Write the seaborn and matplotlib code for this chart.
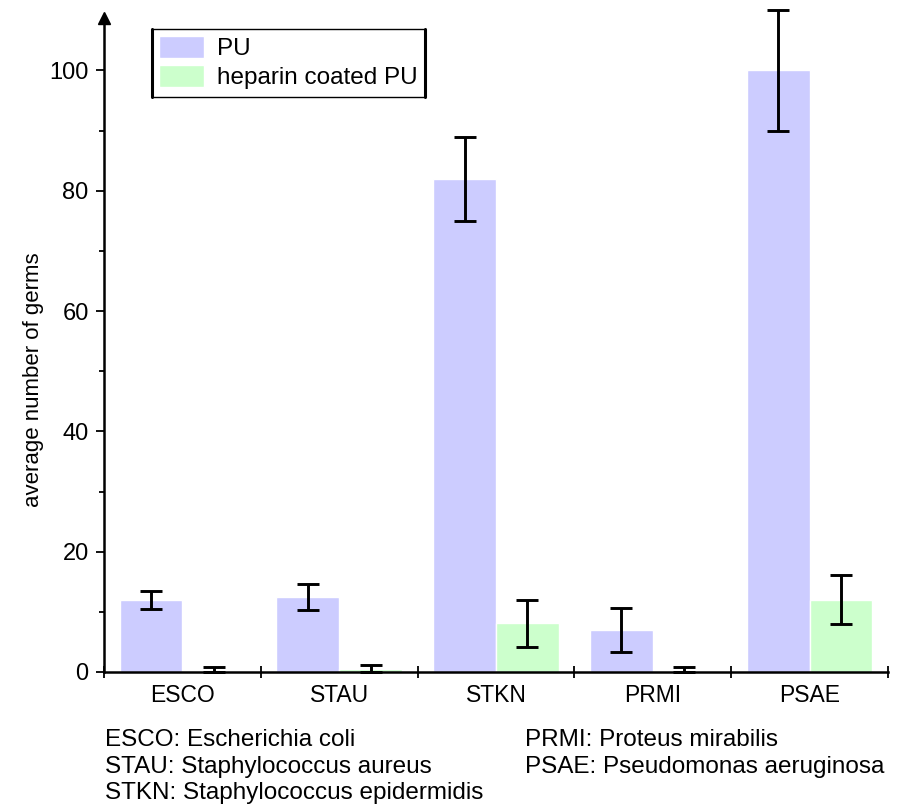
import numpy as np
import pandas as pd
import matplotlib
matplotlib.use('Agg')
import matplotlib.pyplot as plt
from matplotlib.ticker import MultipleLocator, FixedLocator
import seaborn as sns

germs = ['ESCO', 'STAU', 'STKN', 'PRMI', 'PSAE']
pu_mean = [12.0, 12.5, 82.0, 7.0, 100.0]
pu_err = [1.5, 2.2, 7.0, 3.7, 10.0]
hep_mean = [0.2, 0.5, 8.1, 0.2, 12.0]
hep_err = [0.6, 0.6, 3.9, 0.7, 4.1]
series = ['PU', 'heparin coated PU']
colors = ['#ccccff', '#ccffcc']
footnotes_left = ['ESCO: Escherichia coli', 'STAU: Staphylococcus aureus',
                  'STKN: Staphylococcus epidermidis']
footnotes_right = ['PRMI: Proteus mirabilis', 'PSAE: Pseudomonas aeruginosa']

df = pd.DataFrame({
    'germ': germs * 2,
    'value': pu_mean + hep_mean,
    'err': pu_err + hep_err,
    'surface': [series[0]] * len(germs) + [series[1]] * len(germs),
})

sns.set_theme(style='white')
plt.rcParams['font.family'] = ['Liberation Sans', 'DejaVu Sans']
plt.rcParams['text.color'] = 'black'
plt.rcParams['axes.labelcolor'] = 'black'
plt.rcParams['xtick.color'] = 'black'
plt.rcParams['ytick.color'] = 'black'

fig = plt.figure(figsize=(9.06, 8.06), dpi=100)
ax = fig.add_axes([0.1148, 0.1663, 0.8653, 0.806])

sns.barplot(data=df, x='germ', y='value', hue='surface', order=germs,
            hue_order=series, palette=colors, errorbar=None, width=0.8,
            saturation=1, ax=ax)

# error bars on top of each bar (lower end stops at the axis)
for cont, errs in zip(ax.containers, [pu_err, hep_err]):
    for bar, e in zip(cont, errs):
        xc = bar.get_x() + bar.get_width() / 2
        h = bar.get_height()
        eb = ax.errorbar(xc, h, yerr=[[min(e, h)], [e]], fmt='none', ecolor='black',
                         elinewidth=2.1, capsize=8, capthick=2.1, zorder=5)
        for art in eb.lines[1] + eb.lines[2]:
            art.set_clip_on(False)

ax.set_xlim(-0.5, len(germs) - 0.5)
ax.set_ylim(0, 108)
ax.set_xlabel('')
ax.set_ylabel('average number of germs', fontsize=16)
ax.yaxis.set_label_coords(-0.077, 0.45)

for s in ['top', 'right']:
    ax.spines[s].set_visible(False)
for s in ['left', 'bottom']:
    ax.spines[s].set_color('black')
    ax.spines[s].set_linewidth(1.8)

# arrow on y axis
ax.plot(0, 1.006, marker='^', color='black', markersize=9, transform=ax.transAxes,
        clip_on=False, zorder=6)

ax.yaxis.set_major_locator(MultipleLocator(20))
ax.yaxis.set_minor_locator(MultipleLocator(10))
ax.tick_params(axis='y', which='major', direction='out', length=6, width=1.3,
               color='black', labelsize=17, pad=5, left=True)
ax.tick_params(axis='y', which='minor', direction='out', length=3.5, width=1.3,
               color='black', left=True)
ax.xaxis.set_minor_locator(FixedLocator(np.arange(-0.5, len(germs), 1.0)))
ax.tick_params(axis='x', which='major', length=0, labelsize=16.5, pad=9)
ax.tick_params(axis='x', which='minor', direction='inout', length=8, width=1.3,
               color='black', bottom=True)

leg = ax.legend(loc='upper left', bbox_to_anchor=(0.061, 0.99), borderaxespad=0,
                fontsize=17.5, frameon=True, fancybox=False, edgecolor='black',
                handlelength=1.85, handleheight=1.0, handletextpad=0.55,
                labelspacing=0.2, borderpad=0.3, title=None)
leg.get_frame().set_linewidth(1.0)
leg.get_frame().set_alpha(1)

# thick sides of legend box
fig.canvas.draw()
bb = leg.get_window_extent().transformed(fig.transFigure.inverted())
for xs in [bb.x0, bb.x1]:
    fig.add_artist(plt.Line2D([xs, xs], [bb.y0, bb.y1], color='black',
                              linewidth=2.2, transform=fig.transFigure))

for i, t in enumerate(footnotes_left):
    fig.text(0.116, 0.082 - i * 0.033, t, fontsize=17.5, va='center', ha='left')
for i, t in enumerate(footnotes_right):
    fig.text(0.579, 0.082 - i * 0.033, t, fontsize=17.5, va='center', ha='left')

plt.savefig('out.png', dpi=100)
plt.close()
